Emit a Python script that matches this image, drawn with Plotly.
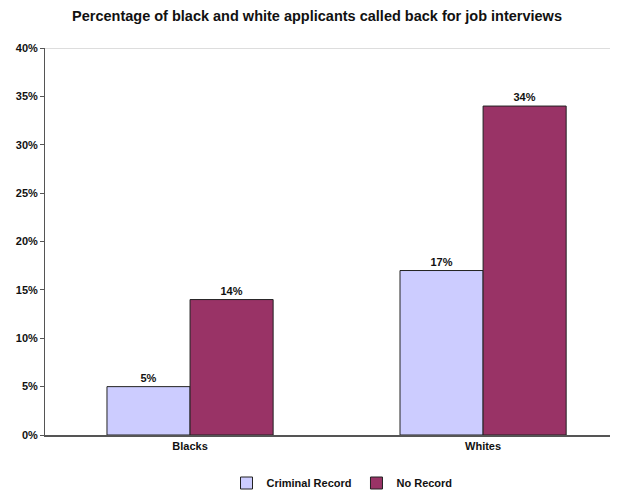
import plotly.graph_objects as go

categories = ["Blacks", "Whites"]
criminal_record = [5, 17]
no_record = [14, 34]
series_names = ["Criminal Record", "No Record"]
y_ticks = [0, 5, 10, 15, 20, 25, 30, 35, 40]
y_tick_labels = [f"{v}%" for v in y_ticks]

FONT = "Arial, Liberation Sans, sans-serif"
# page body has an 8px margin, so the figure is sized to fill the rest
W, H = 610, 483

fig = go.Figure()
for name, vals, color in [(series_names[0], criminal_record, "#CCCCFF"),
                          (series_names[1], no_record, "#993366")]:
    fig.add_trace(go.Bar(
        x=categories, y=vals, name=name,
        marker=dict(color=color, line=dict(color="#222222", width=1)),
        text=[f"{v}%" for v in vals], textposition="outside",
        textfont=dict(family=FONT, size=11, color="#111111", weight="bold"),
        cliponaxis=False,
    ))

fig.update_layout(
    width=W, height=H,
    margin=dict(l=37, r=1, t=40, b=56),
    paper_bgcolor="white", plot_bgcolor="white",
    barmode="group", bargap=0.433, bargroupgap=0,
    title=dict(text="Percentage of black and white applicants called back for job interviews",
               x=309/W, xanchor="center", y=1-8/H, yanchor="middle",
               font=dict(family=FONT, size=14.5, color="#111111", weight="bold")),
    font=dict(family=FONT, size=11, color="#111111"),
    showlegend=True,
    legend=dict(orientation="h", xref="container", yref="container",
                x=334/W, xanchor="center", y=1-475/H, yanchor="middle",
                font=dict(family=FONT, size=11, color="#111111", weight="bold"),
                itemwidth=30, tracegroupgap=0, bgcolor="rgba(0,0,0,0)"),
    xaxis=dict(range=[-0.495, 1.457], showgrid=False, showline=True,
               linecolor="#555555", linewidth=2, ticks="",
               tickfont=dict(family=FONT, size=11, color="#111111", weight="bold")),
    yaxis=dict(range=[0, 40], tickvals=y_ticks, ticktext=y_tick_labels,
               showgrid=False, showline=True, linecolor="#555555", linewidth=1,
               ticks="outside", ticklen=4, tickcolor="#555555", zeroline=False,
               tickfont=dict(family=FONT, size=11, color="#111111", weight="bold")),
)
fig.add_shape(type="line", xref="paper", yref="y", x0=0, x1=1, y0=40, y1=40,
              line=dict(color="#BBBBBB", width=1))

fig.write_html("out.html")
